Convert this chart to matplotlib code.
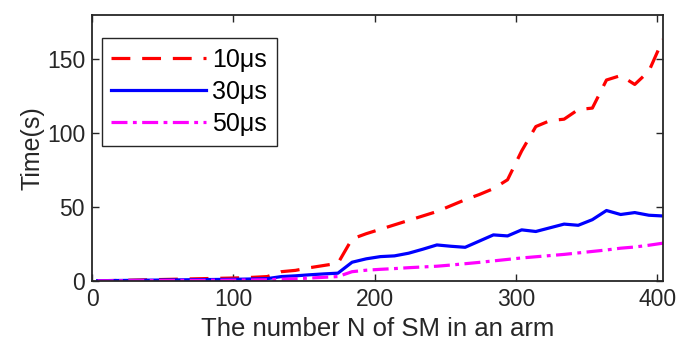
import numpy as np
import matplotlib.pyplot as plt

plt.rcParams['font.family'] = ['Liberation Sans', 'DejaVu Sans']

# number of SM per arm
n_sm = [4, 14, 24, 34, 44, 54, 64, 74, 84, 94, 104, 114, 124, 134, 144, 154, 164,
        174, 184, 194, 204, 214, 224, 234, 244, 254, 264, 274, 284, 294, 304, 314,
        324, 334, 344, 354, 364, 374, 384, 394, 404]

t_10us = [0.2, 0.3, 0.5, 0.7, 0.9, 1.1, 1.3, 1.5, 1.7, 1.9, 2.1, 2.5, 3.0, 6.3, 7.2,
          9.0, 10.5, 12.0, 28.5, 32.0, 35.0, 38.0, 41.0, 44.0, 47.0, 51.0, 55.0, 58.5,
          62.5, 68.5, 88.0, 104.5, 108.5, 109.5, 116.0, 117.0, 136.0, 139.0, 133.0,
          142.0, 163.5]
t_30us = [0.2, 0.3, 0.4, 0.5, 0.6, 0.7, 0.8, 0.9, 1.0, 1.1, 1.2, 1.4, 1.6, 3.0, 3.5,
          4.2, 4.8, 5.3, 12.7, 15.0, 16.5, 17.0, 18.8, 21.5, 24.4, 23.5, 22.8, 27.0,
          31.2, 30.5, 34.6, 33.5, 36.0, 38.5, 37.7, 41.5, 47.7, 45.0, 46.3, 44.5, 44.0]
t_50us = [0.1, 0.1, 0.2, 0.2, 0.3, 0.3, 0.4, 0.4, 0.5, 0.5, 0.6, 0.7, 0.8, 1.2, 1.5,
          2.0, 2.5, 3.0, 6.3, 7.3, 7.9, 8.4, 9.0, 9.5, 10.0, 10.8, 11.7, 12.6, 13.6,
          14.6, 15.6, 16.4, 17.2, 18.0, 19.0, 20.0, 21.0, 22.2, 23.0, 24.2, 25.6]

fig = plt.figure(figsize=(6.81, 3.47), dpi=100)
ax = fig.add_axes([0.1351, 0.1902, 0.8385, 0.7666])

lw = 2.3
ax.plot(n_sm, t_10us, color='#ff0000', lw=lw, ls=(0, (5.9, 3.7)), label='10\u03bcs')
ax.plot(n_sm, t_30us, color='#0000ff', lw=lw, ls='-', label='30\u03bcs')
ax.plot(n_sm, t_50us, color='#ff00ff', lw=lw, ls=(0, (5, 1.7, 1.2, 1.7)), label='50\u03bcs')

ax.set_xlim(0, 404)
ax.set_ylim(0, 180)
ax.set_xticks([0, 100, 200, 300, 400])
ax.set_yticks([0, 50, 100, 150])
ax.tick_params(direction='in', top=True, right=True, length=5, width=1,
               labelsize=16.5, colors='#262626', pad=5)
for s in ax.spines.values():
    s.set_linewidth(1.3)
    s.set_color('#262626')

ax.set_xlabel('The number N of SM in an arm', fontsize=18.5, color='#262626', labelpad=4)
ax.set_ylabel('Time(s)', fontsize=18, color='#262626', labelpad=2)

leg = ax.legend(loc='upper left', bbox_to_anchor=(0.0175, 0.9135), fontsize=18,
                handlelength=3.8, handletextpad=0.24, borderpad=0.38, labelspacing=0.33,
                borderaxespad=0, fancybox=False, framealpha=1, edgecolor='#262626')
leg.get_frame().set_linewidth(1)

fig.savefig('out.png', dpi=100)
